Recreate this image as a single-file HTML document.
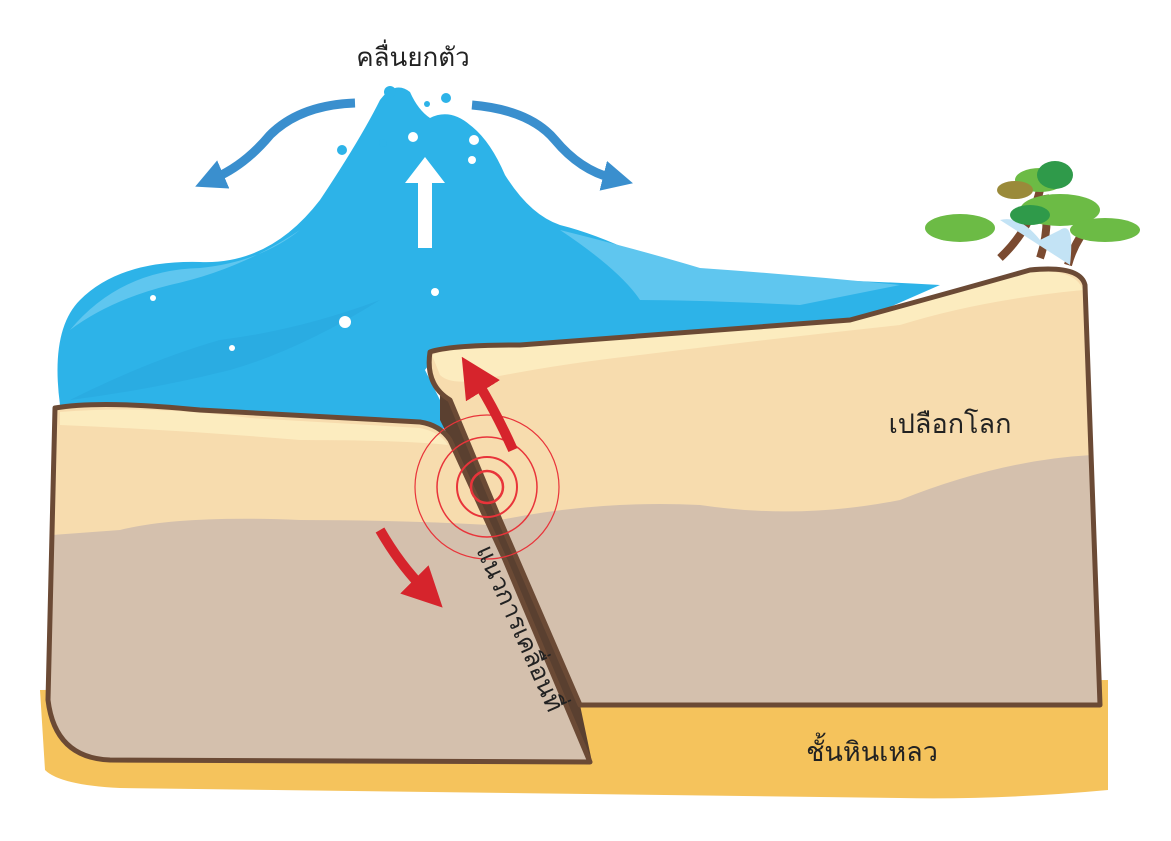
<!DOCTYPE html>
<html><head><meta charset="utf-8"><style>
html,body{margin:0;padding:0;background:#fff;width:1171px;height:841px;overflow:hidden}
svg{display:block}
text{font-family:"Liberation Sans","Noto Sans CJK SC",sans-serif;fill:#222}
</style></head><body>
<svg width="1171" height="841" viewBox="0 0 1171 841" xmlns="http://www.w3.org/2000/svg">
<defs>
<marker id="bh" markerWidth="3.4" markerHeight="3.4" refX="1" refY="1.7" orient="auto" markerUnits="strokeWidth"><path d="M0,0 L3.4,1.7 L0,3.4 Z" fill="#3a8fce"/></marker>
<marker id="rh" markerWidth="4" markerHeight="4" refX="1.5" refY="2" orient="auto" markerUnits="strokeWidth"><path d="M0,0 L4,2 L0,4 Z" fill="#d6242c"/></marker>
</defs>
<path d="M40,690 L1108,680 L1108,790 Q1000,800 900,798 L120,788 Q60,785 45,770 Z" fill="#f5c35c"/>
<path d="M60,405 Q50,330 80,300 Q120,260 200,262 Q270,265 320,200 Q360,140 380,100 Q395,80 410,92 Q418,110 430,118 Q450,108 470,125 Q490,140 505,175 Q530,215 560,225 Q600,235 650,260 Q700,275 760,278 Q850,280 940,285 L860,320 L600,340 L440,350 L425,370 L455,430 Q300,410 60,405 Z" fill="#2db3e8"/>
<path d="M70,330 Q120,270 200,268 Q260,262 300,230 Q240,270 170,285 Q110,300 70,330 Z" fill="#5fc6ef"/>
<path d="M560,230 Q640,250 700,268 Q800,275 900,285 L800,305 Q700,300 640,300 Q620,270 560,230 Z" fill="#5fc6ef"/>
<path d="M70,400 Q150,360 220,340 Q300,330 380,300 Q300,350 230,370 Q150,390 70,400 Z" fill="#28a6dd" opacity=".6"/>
<path d="M440,380 L455,400 L505,520 L580,705 L592,762 L505,560 L450,440 L440,420 Z" fill="#5a4030"/>
<path d="M55,408 Q100,400 200,410 L420,422 Q440,425 450,440 L505,560 L590,762 L110,760 Q55,758 48,700 Z" fill="#d4c0ad"/>
<path d="M55,408 Q100,400 200,410 L420,422 Q440,425 450,440 L490,525 Q400,520 300,520 Q180,515 120,530 L52,535 Z" fill="#f7dcae"/>
<path d="M60,412 Q150,405 250,418 L420,428 Q440,432 448,445 Q400,440 300,440 Q180,430 60,425 Z" fill="#fcecbf"/>
<path d="M55,408 Q100,400 200,410 L420,422 Q440,425 450,440 L505,560 L590,762 L110,760 Q55,758 48,700 Z" fill="none" stroke="#6b4a35" stroke-width="5" stroke-linejoin="round"/>
<path d="M430,352 Q450,345 520,345 L850,320 Q960,290 1030,270 Q1080,265 1085,285 L1100,705 L580,705 L500,520 L450,400 Q425,385 430,352 Z" fill="#d4c0ad"/>
<path d="M430,352 Q450,345 520,345 L850,320 Q960,290 1030,270 Q1080,265 1085,285 L1092,455 Q1000,460 900,500 Q800,520 700,505 Q600,500 500,520 L450,400 Q425,385 430,352 Z" fill="#f7dcae"/>
<path d="M432,355 Q450,347 520,347 L850,322 Q960,292 1030,272 Q1075,268 1083,290 Q980,300 900,325 Q760,340 640,355 Q550,365 480,380 Q450,385 440,375 Z" fill="#fcecbf"/>
<path d="M580,705 L1100,705 L1085,285 Q1080,265 1030,270 Q960,290 850,320 L520,345 Q450,345 430,352 Q425,385 450,400 L500,520 Z" fill="none" stroke="#6b4a35" stroke-width="5" stroke-linejoin="round"/>
<g fill="none" stroke="#e8343a">
<circle cx="487" cy="487" r="72" stroke-width="1.2"/>
<circle cx="487" cy="487" r="50" stroke-width="1.5"/>
<circle cx="487" cy="487" r="30" stroke-width="2"/>
<circle cx="487" cy="487" r="16" stroke-width="2.5"/>
</g>
<path d="M513,450 Q495,410 475,378" fill="none" stroke="#d6242c" stroke-width="10" marker-end="url(#rh)"/>
<path d="M380,530 Q400,565 425,590" fill="none" stroke="#d6242c" stroke-width="10" marker-end="url(#rh)"/>
<path d="M355,103 Q300,105 270,135 Q245,165 215,178" fill="none" stroke="#3a8fce" stroke-width="9" marker-end="url(#bh)"/>
<path d="M472,105 Q530,110 555,140 Q580,170 612,178" fill="none" stroke="#3a8fce" stroke-width="9" marker-end="url(#bh)"/>
<path d="M418,248 L418,183 L405,183 L425,157 L445,183 L432,183 L432,248 Z" fill="#fff"/>
<g fill="#fff"><circle cx="413" cy="137" r="5"/><circle cx="474" cy="140" r="5"/><circle cx="472" cy="160" r="4"/><circle cx="345" cy="322" r="6"/><circle cx="435" cy="292" r="4"/><circle cx="153" cy="298" r="3"/><circle cx="232" cy="348" r="3"/></g>
<g fill="#2db3e8"><circle cx="390" cy="92" r="6"/><circle cx="446" cy="98" r="5"/><circle cx="427" cy="104" r="3"/><circle cx="342" cy="150" r="5"/><circle cx="383" cy="143" r="4"/></g>
<path d="M1000,258 Q1030,230 1040,190 M1040,258 Q1050,230 1045,195 M1068,265 Q1075,240 1090,225" stroke="#7a4a30" stroke-width="8" fill="none"/>
<path d="M1000,220 Q1020,215 1040,240 L1060,230 Q1075,220 1070,265 Z" fill="#c3e3f5"/>
<g fill="#6cbb45"><ellipse cx="960" cy="228" rx="35" ry="14"/><ellipse cx="1060" cy="210" rx="40" ry="16"/><ellipse cx="1105" cy="230" rx="35" ry="12"/><ellipse cx="1040" cy="180" rx="25" ry="12"/></g>
<g fill="#2f9a4a"><ellipse cx="1055" cy="175" rx="18" ry="14"/><ellipse cx="1030" cy="215" rx="20" ry="10"/></g>
<ellipse cx="1015" cy="190" rx="18" ry="9" fill="#9a8a3a"/>
<text x="413" y="66" font-size="26" text-anchor="middle">คลื่นยกตัว</text>
<text x="950" y="433" font-size="27" text-anchor="middle">เปลือกโลก</text>
<text x="872" y="761" font-size="27" text-anchor="middle">ชั้นหินเหลว</text>
<text transform="translate(476,550) rotate(66)" font-size="25">แนวการเคลื่อนที่</text>
</svg>
</body></html>
